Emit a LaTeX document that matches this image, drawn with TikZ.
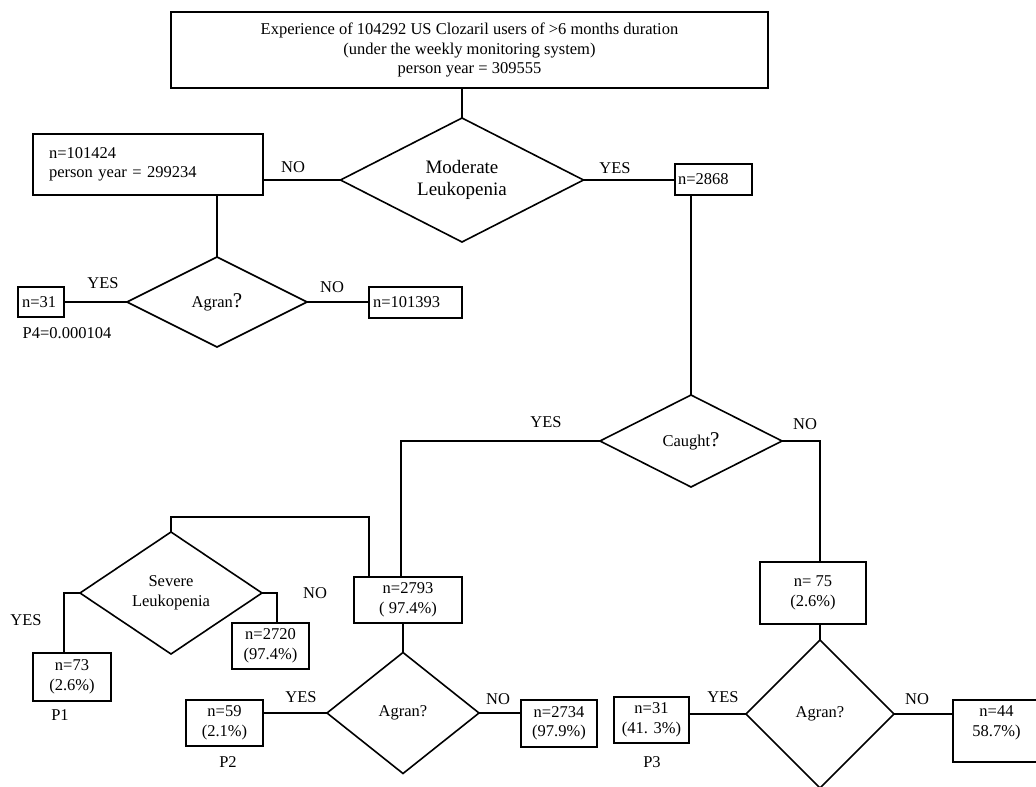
\documentclass[tikz,border=0pt]{standalone}
\usepackage{fontspec}
\setmainfont{Liberation Serif}
\usetikzlibrary{shapes.geometric}
\newcommand\dtxt{\fontsize{16.5}{19.5}\selectfont}
\newcommand\bigtxt{\fontsize{19}{22}\selectfont}
\newcommand\bq{{\fontsize{21}{21}\selectfont ?}}
\begin{document}
\begin{tikzpicture}[x=1pt,y=-1pt,
  box/.style={draw, rectangle, line width=2.6pt, inner sep=0pt, outer sep=0pt, align=center, font=\dtxt},
  lbox/.style={box, align=left, inner xsep=4pt},
  dia/.style={draw, diamond, line width=1.6pt, inner sep=0pt, outer sep=0pt, align=center, font=\dtxt},
  lab/.style={inner sep=0pt, font=\dtxt},
  conn/.style={line width=1.8pt},
  vconn/.style={line width=2.6pt}]
\useasboundingbox (0,0) rectangle (1036,787);
\fill[white] (0,0) rectangle (1036,787);

% boxes
\node[box, minimum width=597pt, minimum height=76pt] (top) at (469.5,50)
  {Experience of 104292 US Clozaril users of >6 months duration\\(under the weekly monitoring system)\\person year = 309555};
\node[lbox, inner xsep=16pt, text width=198pt, minimum height=61pt] (n101424) at (148,164.5)
  {n=101424\\person year = 299234};
\node[lbox, inner xsep=3pt, text width=71pt, minimum height=31pt] (n2868) at (713.5,179.5) {n=2868};
\node[lbox, text width=38pt, minimum height=30pt] (n31a) at (41,302) {n=31};
\node[lbox, text width=85pt, minimum height=31pt] (n101393) at (415.5,302.5) {n=101393};
\node[box, minimum width=78pt, minimum height=48pt] (n73) at (72,677) {n=73\\(2.6\%)};
\node[box, minimum width=77pt, minimum height=46pt] (n2720) at (270.5,646) {n=2720\\(97.4\%)};
\node[box, minimum width=108pt, minimum height=46pt] (n2793) at (408,600) {n=2793\\( 97.4\%)};
\node[box, minimum width=77pt, minimum height=46pt] (n59) at (224.5,723) {n=59\\(2.1\%)};
\node[box, minimum width=76pt, minimum height=47pt] (n2734) at (559,723.5) {n=2734\\(97.9\%)};
\node[box, minimum width=75pt, minimum height=46pt] (n31b) at (651.5,720) {n=31\\(41. 3\%)};
\node[box, minimum width=106pt, minimum height=62pt] (n75) at (813,593) {n= 75\\(2.6\%)};
\node[box, minimum width=87pt, minimum height=62pt] (n44) at (996.5,731) {n=44\\58.7\%)\\\mbox{}};

% diamonds
\node[dia, minimum width=243pt, minimum height=124pt, shape aspect=1.96, font=\bigtxt] (mod) at (462,180) {Moderate\\Leukopenia};
\node[dia, minimum width=180pt, minimum height=90pt, shape aspect=2] (ag1) at (217,302) {Agran\bq};
\node[dia, minimum width=182pt, minimum height=92pt, shape aspect=1.98] (caught) at (691,441) {Caught\bq};
\node[dia, minimum width=182pt, minimum height=122pt, shape aspect=1.49] (sev) at (171,593) {Severe\\Leukopenia};
\node[dia, minimum width=152pt, minimum height=121pt, shape aspect=1.26] (ag2) at (403,713) {Agran?};
\node[dia, minimum width=148pt, minimum height=148pt, shape aspect=1] (ag3) at (820,714) {Agran?};

% connectors
\draw[vconn] (mod.north) -- (mod.north |- top.south);
\draw[conn] (mod.west) -- (mod.west -| n101424.east);
\draw[conn] (mod.east) -- (mod.east -| n2868.west);
\draw[vconn] (ag1.north) -- (ag1.north |- n101424.south);
\draw[conn] (ag1.west) -- (ag1.west -| n31a.east);
\draw[conn] (ag1.east) -- (ag1.east -| n101393.west);
\draw[vconn] (caught.north) -- (caught.north |- n2868.south);
\draw[vconn] (caught.west) -| ([xshift=-7pt]n2793.north);
\draw[vconn] (caught.east) -| ([xshift=7pt]n75.north);
\draw[vconn] ([xshift=-39pt]n2793.north) -- ++(0,-60) -| (sev.north);
\draw[vconn] (sev.west) -| ([xshift=-8pt]n73.north);
\draw[vconn] (sev.east) -| ([xshift=6.5pt]n2720.north);
\draw[vconn] (ag2.north) -- (ag2.north |- n2793.south);
\draw[conn] (ag2.west) -- (ag2.west -| n59.east);
\draw[conn] (ag2.east) -- (ag2.east -| n2734.west);
\draw[vconn] (ag3.north) -- (ag3.north |- n75.south);
\draw[conn] (ag3.west) -- (ag3.west -| n31b.east);
\draw[conn] (ag3.east) -- (ag3.east -| n44.west);

% labels
\node[lab] (l1) at (293,167) {NO};
\node[lab] (l2) at (615,168) {YES};
\node[lab] (l3) at (103,283) {YES};
\node[lab] (l4) at (332,287) {NO};
\node[lab] (p4) at (67,333) {P4=0.000104};
\node[lab] (l5) at (546,422) {YES};
\node[lab] (l6) at (805,424) {NO};
\node[lab] (l7) at (26,620) {YES};
\node[lab] (l8) at (315,593) {NO};
\node[lab] (p1) at (60,715) {P1};
\node[lab] (l9) at (301,697) {YES};
\node[lab] (l10) at (498,699) {NO};
\node[lab] (p2) at (228,762) {P2};
\node[lab] (l11) at (723,697) {YES};
\node[lab] (l12) at (917,699) {NO};
\node[lab] (p3) at (652,762) {P3};
\end{tikzpicture}
\end{document}
